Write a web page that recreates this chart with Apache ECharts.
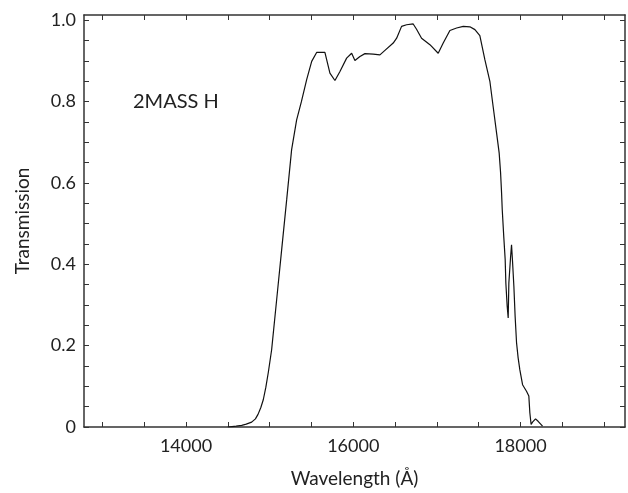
<!DOCTYPE html>
<html>
<head>
<meta charset="utf-8">
<script src="https://cdn.jsdelivr.net/npm/echarts@6/dist/echarts.min.js"></script>
<style>
  html, body { margin: 0; padding: 0; background: #fff; }
  #chart { width: 628px; height: 493px; }
</style>
</head>
<body>
<div id="chart"></div>
<script>
// wavelength in Angstrom
var wavelength = [
  14500, 14550, 14600, 14666, 14720, 14785, 14830, 14861, 14895, 14924,
  14955, 14984, 15024, 15084, 15144, 15204, 15263, 15323, 15380, 15443,
  15503, 15562, 15661, 15721, 15781, 15841, 15921, 15981, 16020, 16080,
  16140, 16239, 16319, 16379, 16478, 16519, 16578, 16638, 16717, 16757,
  16817, 16917, 17016, 17076, 17156, 17236, 17315, 17395, 17455, 17514,
  17574, 17634, 17673, 17714, 17745, 17762, 17774, 17782, 17801, 17817,
  17825, 17841, 17853, 17861, 17881, 17893, 17905, 17921, 17936, 17953,
  17972, 17992, 18025, 18072, 18100, 18112, 18127, 18144, 18180, 18211,
  18264
];
var transmission = [
  0.000, 0.001, 0.002, 0.004, 0.007, 0.012, 0.020, 0.031, 0.048, 0.067,
  0.098, 0.134, 0.190, 0.313, 0.436, 0.559, 0.682, 0.755, 0.800, 0.854,
  0.899, 0.921, 0.921, 0.870, 0.852, 0.874, 0.907, 0.919, 0.901, 0.911,
  0.918, 0.917, 0.915, 0.926, 0.944, 0.956, 0.985, 0.989, 0.991, 0.978,
  0.956, 0.940, 0.919, 0.944, 0.975, 0.981, 0.985, 0.984, 0.977, 0.962,
  0.903, 0.850, 0.788, 0.723, 0.674, 0.625, 0.575, 0.534, 0.465, 0.412,
  0.354, 0.297, 0.268, 0.354, 0.416, 0.448, 0.407, 0.346, 0.272, 0.207,
  0.170, 0.141, 0.104, 0.088, 0.076, 0.035, 0.006, 0.012, 0.020, 0.014,
  0.002
];

var xTicks = [13000, 13500, 14000, 14500, 15000, 15500, 16000, 16500, 17000, 17500, 18000, 18500, 19000];
var xLabels = [14000, 16000, 18000];
var yTicks = [0, 0.05, 0.1, 0.15, 0.2, 0.25, 0.3, 0.35, 0.4, 0.45, 0.5,
  0.55, 0.6, 0.65, 0.7, 0.75, 0.8, 0.85, 0.9, 0.95, 1.0];
var yLabels = [0, 0.2, 0.4, 0.6, 0.8, 1.0];

var filterName = "2MASS H";

var myChart = echarts.init(document.getElementById("chart"));
var font = "Lato";
var textColor = "#222";
var axisColor = "#333";

function frameAxis(pos, isX) {
  var ax = {
    type: "value",
    position: pos,
    min: isX ? 12780 : 0,
    max: isX ? 19250 : 1.013,
    axisLine: { show: true, onZero: false, lineStyle: { color: axisColor, width: 1.5 } },
    axisTick: { show: true, inside: true, length: 5, customValues: isX ? xTicks : yTicks,
      lineStyle: { color: axisColor, width: 1 } },
    axisLabel: { show: false },
    splitLine: { show: false }
  };
  return ax;
}

var xBottom = frameAxis("bottom", true);
xBottom.axisLabel = {
  show: true,
  customValues: xLabels,
  margin: 10,
  color: textColor,
  fontFamily: font,
  fontSize: 18,
  formatter: function (v) {
    return String(v);
  }
};
xBottom.name = "Wavelength (Å)";
xBottom.nameLocation = "middle";
xBottom.nameGap = 42;
xBottom.nameTextStyle = { color: textColor, fontFamily: font, fontSize: 19 };

var yLeft = frameAxis("left", false);
yLeft.axisLabel = {
  show: true,
  customValues: yLabels,
  margin: 8,
  color: textColor,
  fontFamily: font,
  fontSize: 18,
  formatter: function (v) {
    return v === 0 ? "0" : v.toFixed(1);
  }
};
yLeft.name = "Transmission";
yLeft.nameLocation = "middle";
yLeft.nameGap = 52;
yLeft.nameTextStyle = { color: textColor, fontFamily: font, fontSize: 19 };

var option = {
  backgroundColor: "#fff",
  animation: false,
  grid: { left: 84, right: 3, top: 15, bottom: 65.5, containLabel: false },
  xAxis: [xBottom, frameAxis("top", true)],
  yAxis: [yLeft, frameAxis("right", false)],
  graphic: [{
    type: "text",
    left: 133,
    top: 92,
    style: { text: filterName, fill: textColor, font: "20px Lato" }
  }],
  series: [{
    type: "line",
    data: wavelength.map(function (w, i) { return [w, transmission[i]]; }),
    showSymbol: false,
    lineStyle: { color: "#111", width: 1.2 }
  }]
};

myChart.setOption(option);
</script>
</body>
</html>
